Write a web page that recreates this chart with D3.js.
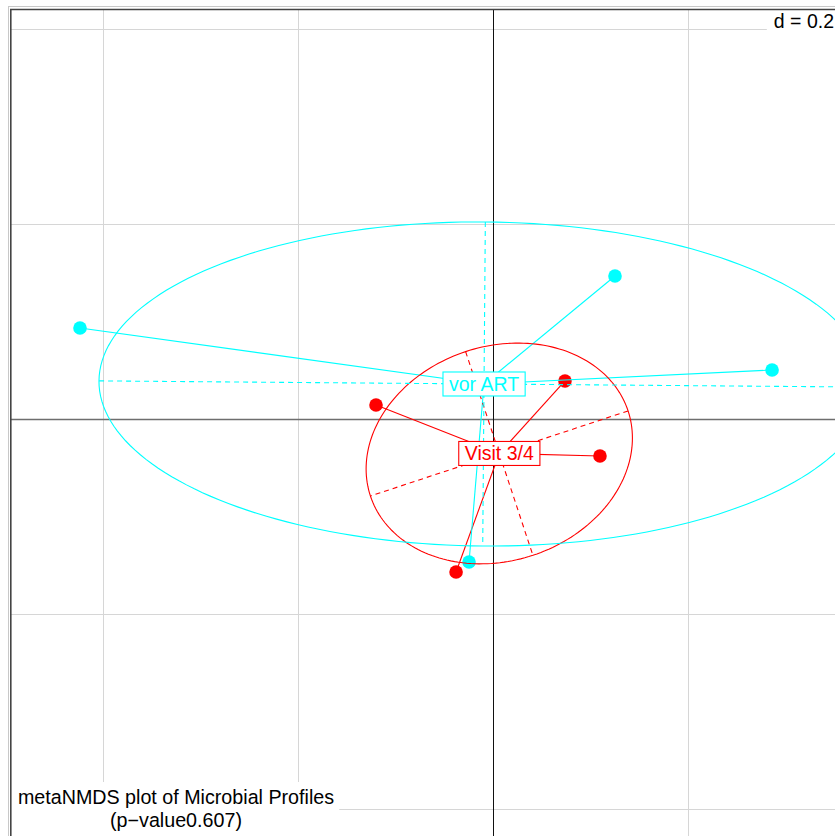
<!DOCTYPE html>
<html>
<head>
<meta charset="utf-8">
<script src="https://cdn.jsdelivr.net/npm/d3@7"></script>
<style>
  html, body { margin: 0; padding: 0; background: #fff; }
  svg { display: block; font-family: "Liberation Sans", Arial, sans-serif; }
</style>
</head>
<body>
<svg id="chart" width="835" height="836"></svg>
<script>
// NMDS site scores, one pair of arrays per group
const groups = ["Visit 3/4", "vor ART"];
const groupColors = ["#ff0000", "#00ffff"];
const visitX = [-0.1200, 0.0738, 0.1097, -0.0379];
const visitY = [0.0144, 0.0390, -0.0379, -0.1569];
const vorArtX = [-0.4236, 0.1251, 0.2862, -0.0246];
const vorArtY = [0.0933, 0.1467, 0.0503, -0.1467];
const gridTicks = [-0.4, -0.2, 0.2, 0.4];
const gridLabel = "d = 0.2";
const subTitle = ["metaNMDS plot of Microbial Profiles", "(p\u2212value0.607)"];
const ellipseCoeff = 1.5;

const W = 835, H = 836;
const svg = d3.select("#chart");

// plot window (continues past the right/bottom edges of the page)
const x = d3.scaleLinear().domain([-0.4954, 0.3610]).range([10, 845]);
const y = d3.scaleLinear().domain([-0.4359, 0.4205]).range([844, 9]);

const series = [
  { name: groups[0], color: groupColors[0], xs: visitX, ys: visitY },
  { name: groups[1], color: groupColors[1], xs: vorArtX, ys: vorArtY }
];

// grid
const grid = svg.append("g").attr("stroke", "#d6d6d6").attr("stroke-width", 1);
grid.selectAll("line.v").data(gridTicks).join("line")
  .attr("x1", d => Math.round(x(d)) + 0.5).attr("x2", d => Math.round(x(d)) + 0.5)
  .attr("y1", y.range()[1]).attr("y2", y.range()[0]);
grid.selectAll("line.h").data(gridTicks).join("line")
  .attr("y1", d => Math.round(y(d)) + 0.5).attr("y2", d => Math.round(y(d)) + 0.5)
  .attr("x1", x.range()[0]).attr("x2", x.range()[1]);

// grid scale legend, top-right
const dText = svg.append("text").attr("font-size", 19.5).attr("fill", "#000")
  .attr("text-anchor", "end").attr("x", 834).attr("y", 28).text(gridLabel);
const dBox = dText.node().getBBox();
svg.insert("rect", "text").attr("x", dBox.x - 7).attr("y", y.range()[1] + 1)
  .attr("width", dBox.width + 20).attr("height", dBox.height + 4).attr("fill", "#fff");

// axes through the origin
svg.append("line").attr("x1", x.range()[0]).attr("x2", x.range()[1])
  .attr("y1", Math.round(y(0)) + 0.5).attr("y2", Math.round(y(0)) + 0.5)
  .attr("stroke", "#6e6e6e").attr("stroke-width", 1.6);
svg.append("line").attr("y1", y.range()[1]).attr("y2", y.range()[0])
  .attr("x1", Math.round(x(0)) + 0.5).attr("x2", Math.round(x(0)) + 0.5)
  .attr("stroke", "#111").attr("stroke-width", 1);

// per-group statistics (weights 1/n, as in ade4)
series.forEach(s => {
  const n = s.xs.length;
  s.mx = d3.mean(s.xs); s.my = d3.mean(s.ys);
  s.vx = d3.sum(s.xs, v => (v - s.mx) ** 2) / n;
  s.vy = d3.sum(s.ys, v => (v - s.my) ** 2) / n;
  s.cxy = d3.sum(s.xs, (v, i) => (v - s.mx) * (s.ys[i] - s.my)) / n;
});

// points
series.forEach(s => {
  svg.append("g").selectAll("circle").data(s.xs).join("circle")
    .attr("cx", d => x(d)).attr("cy", (d, i) => y(s.ys[i]))
    .attr("r", 6.8).attr("fill", s.color);
});

// stars from group centre to each point
series.forEach(s => {
  svg.append("g").attr("stroke", s.color).attr("stroke-width", 1.1)
    .selectAll("line").data(s.xs).join("line")
    .attr("x1", x(s.mx)).attr("y1", y(s.my))
    .attr("x2", d => x(d)).attr("y2", (d, i) => y(s.ys[i]));
});

// inertia ellipses with their dashed axes
series.forEach(s => {
  const { mx, my, vx, vy, cxy } = s;
  const delta = Math.sqrt((vx - vy) ** 2 + 4 * cxy * cxy);
  let l1 = Math.max((vx + vy + delta) / 2, 0);
  let l2 = Math.max(vx + vy - l1, 0);
  l1 = Math.sqrt(l1); l2 = Math.sqrt(l2);
  let a0 = 1, b0 = (l1 * l1 - vx) / cxy;
  const norm = Math.sqrt(a0 * a0 + b0 * b0);
  a0 /= norm; b0 /= norm;
  const c11 = ellipseCoeff * a0 * l1, c12 = -ellipseCoeff * b0 * l2;
  const c21 = ellipseCoeff * b0 * l1, c22 = ellipseCoeff * a0 * l2;
  const pts = d3.range(200).map(i => {
    const t = 2 * Math.PI * i / 200;
    return [x(mx + c11 * Math.cos(t) + c12 * Math.sin(t)), y(my + c21 * Math.cos(t) + c22 * Math.sin(t))];
  });
  const g = svg.append("g").attr("stroke", s.color).attr("fill", "none").attr("stroke-width", 1.1);
  g.append("path").attr("d", d3.line().curve(d3.curveLinearClosed)(pts));
  g.append("line").attr("stroke-dasharray", "5,4")
    .attr("x1", x(mx + c11)).attr("y1", y(my + c21)).attr("x2", x(mx - c11)).attr("y2", y(my - c21));
  g.append("line").attr("stroke-dasharray", "5,4")
    .attr("x1", x(mx + c12)).attr("y1", y(my + c22)).attr("x2", x(mx - c12)).attr("y2", y(my - c22));
});

// group labels in framed white boxes
series.forEach(s => {
  const g = svg.append("g");
  const t = g.append("text").attr("x", x(s.mx)).attr("y", y(s.my)).attr("dy", "0.35em")
    .attr("text-anchor", "middle").attr("font-size", 19.5).attr("fill", s.color).text(s.name);
  const b = t.node().getBBox();
  g.insert("rect", "text").attr("x", b.x - 6).attr("y", y(s.my) - 12)
    .attr("width", b.width + 12).attr("height", 24)
    .attr("fill", "#fff").attr("stroke", s.color).attr("stroke-width", 1.1);
});

// subtitle, bottom-left
const sub = svg.append("g");
const subT = sub.append("text").attr("font-size", 19.7).attr("fill", "#000").attr("text-anchor", "middle");
subT.selectAll("tspan").data(subTitle).join("tspan")
  .attr("x", 176).attr("y", (d, i) => 804 + i * 23).text(d => d);
const sb = subT.node().getBBox();
sub.insert("rect", "text").attr("x", x.range()[0] + 1).attr("y", sb.y - 4)
  .attr("width", sb.x + sb.width + 4 - x.range()[0]).attr("height", H).attr("fill", "#fff");

// frame
svg.append("line").attr("x1", 8).attr("x2", W).attr("y1", 6.5).attr("y2", 6.5).attr("stroke", "#c8c8c8");
svg.append("line").attr("x1", 8.5).attr("x2", 8.5).attr("y1", 6).attr("y2", H).attr("stroke", "#c8c8c8");
svg.append("line").attr("x1", 10).attr("x2", W).attr("y1", 9.5).attr("y2", 9.5).attr("stroke", "#444").attr("stroke-width", 1.6);
svg.append("line").attr("x1", 10.8).attr("x2", 10.8).attr("y1", 9).attr("y2", H).attr("stroke", "#444").attr("stroke-width", 1.6);
</script>
</body>
</html>
